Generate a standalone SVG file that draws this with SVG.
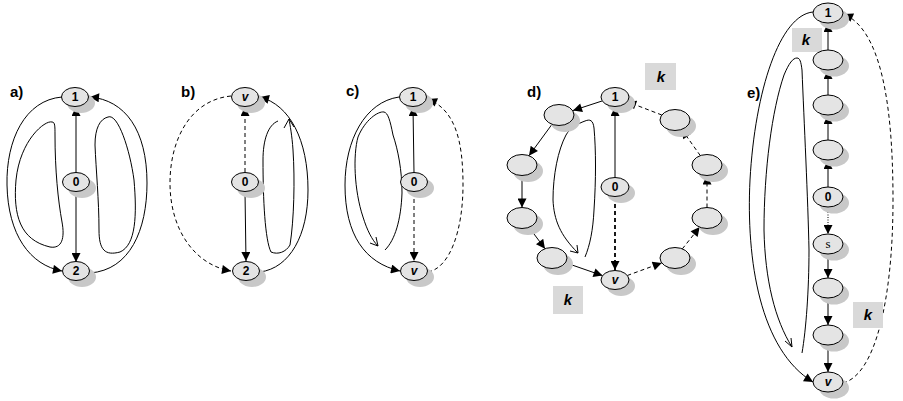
<svg xmlns="http://www.w3.org/2000/svg" width="903" height="401" viewBox="0 0 903 401">
<style>
.sh{fill:#c8c8c8}
.nd{fill:#e4e4e4;stroke:#000;stroke-width:1}
.lb{font-family:"Liberation Sans",Arial,sans-serif;font-size:12px;font-weight:bold;text-anchor:middle}
.it{font-style:italic}
.pl{font-family:"Liberation Sans",Arial,sans-serif;font-size:15px;font-weight:bold}
.kb{fill:#d9d9d9}
.kt{font-family:"Liberation Sans",Arial,sans-serif;font-size:15px;font-weight:bold;font-style:italic;text-anchor:middle}
.e{fill:none;stroke:#000;stroke-width:1}
.a{marker-end:url(#ah)}
.d{stroke-dasharray:4,3}
.dt{stroke-dasharray:1,1.5}
.th{stroke-width:1.8}
</style>
<defs>
<marker id="ah" viewBox="0 0 10 10" refX="10" refY="5" markerWidth="10" markerHeight="9" markerUnits="userSpaceOnUse" orient="auto">
<path d="M0,0 L10,5 L0,10 Z" fill="#000"/>
</marker>
</defs>
<rect width="903" height="401" fill="#fff"/>

<!-- panel labels -->
<text class="pl" x="10" y="97">a)</text>
<text class="pl" x="181" y="97">b)</text>
<text class="pl" x="346" y="96">c)</text>
<text class="pl" x="527" y="97">d)</text>
<text class="pl" x="747" y="98">e)</text>

<g id="connectors">
<!-- a -->
<line class="e a" x1="76" y1="173" x2="76" y2="107"/>
<line class="e a" x1="76" y1="192" x2="76" y2="262"/>
<path class="e a" d="M62,97 C25,100 6,140 7,185 C8,235 30,265 62,271"/>
<path class="e a" d="M90,273 C130,270 147,230 147,183 C147,130 125,100 90,97"/>
<path class="e" d="M52,122 C45,120 20,140 16,180 C13,215 20,240 50,247 C62,249 65,238 62,222 C58,200 55,170 55,135 C55,126 55,122 52,122 Z"/>
<path class="e" d="M108,117 C118,113 130,150 134,180 C137,215 136,245 120,252 C105,256 99,250 99,230 C99,200 96,170 95,145 C95,128 100,119 108,117 Z"/>
<!-- b -->
<line class="e a d" x1="245" y1="172" x2="245" y2="107"/>
<line class="e a" x1="245" y1="192" x2="246" y2="261"/>
<path class="e a d" d="M231,96 C190,100 170,140 170,183 C170,230 195,265 231,271"/>
<path class="e a" d="M260,272 C290,268 308,235 308,190 C308,140 290,105 260,97"/>
<path class="e" d="M278,121 C268,125 263,140 263,160 C263,200 265,240 271,252 C278,255 286,252 290,245 C294,220 295,180 293,150 C292,135 290,125 289,119 M284,128 L289,119 L294,127"/>
<!-- c -->
<line class="e a" x1="414" y1="173" x2="413" y2="107"/>
<line class="e a d" x1="414" y1="192" x2="414" y2="261"/>
<path class="e a" d="M399,97 C365,102 345,140 345,185 C345,235 365,263 400,271"/>
<path class="e a d" d="M428,272 C450,268 463,230 463,185 C463,140 455,110 428,99"/>
<path class="e" d="M385,250 C395,240 401,220 402,193 C402,170 398,150 393,135 C390,120 388,113 384,112 C378,111 365,120 358,137 C353,155 354,190 363,217 C367,230 372,240 378,246 M370,243 L378,246 L376,237"/>
<!-- d -->
<line class="e a" x1="602" y1="101" x2="573" y2="110.5"/>
<line class="e a" x1="552" y1="124.3" x2="529" y2="155.7"/>
<line class="e a" x1="522" y1="175.5" x2="522" y2="207.5"/>
<line class="e a" x1="529" y1="227.3" x2="545" y2="248.7"/>
<line class="e a" x1="565.4" y1="262.7" x2="602.5" y2="275.6"/>
<line class="e a d" x1="627.3" y1="275.5" x2="661.7" y2="262.9"/>
<line class="e a d" x1="682.3" y1="248.9" x2="699.7" y2="227.1"/>
<line class="e a d" x1="707" y1="207.5" x2="707" y2="175.5"/>
<line class="e a d" x1="700.3" y1="155.6" x2="681.7" y2="129.4"/>
<line class="e a d" x1="661.8" y1="115" x2="627.2" y2="101.7"/>
<line class="e a" x1="615" y1="177" x2="615" y2="107"/>
<line class="e a d th" x1="615" y1="197" x2="615" y2="270"/>
<path class="e" d="M585,257 C590,245 593,230 594,210 C596,180 596,150 594,128 C593,120 590,119 585,121 C577,124 570,128 566,135 C558,150 553,175 553,200 C554,220 560,235 578,253 M570,251 L578,253 L577,245"/>
<!-- e -->
<line class="e a" x1="828" y1="187" x2="828" y2="160"/>
<line class="e a" x1="828" y1="140" x2="828" y2="115"/>
<line class="e a" x1="828" y1="95" x2="828" y2="70"/>
<line class="e a" x1="828" y1="50" x2="828" y2="23"/>
<line class="e a dt" x1="828" y1="207" x2="828" y2="234"/>
<line class="e a" x1="828" y1="254" x2="828" y2="278"/>
<line class="e a" x1="828" y1="298" x2="828" y2="325"/>
<line class="e a" x1="828" y1="345" x2="828" y2="372"/>
<path class="e a d" d="M843,383 C875,375 893,300 893,200 C893,100 880,30 844,14"/>
<path class="e a" d="M813,12 C780,15 755,90 750,180 C746,260 760,350 813,382"/>
<path class="e" d="M802,353 C806,330 809,290 809,250 C808,200 804,120 802,70 C801,62 800,58 797,58 C793,58 789,63 784,75 C772,110 764,170 764,230 C765,280 775,320 792,347 M785,341 L792,347 L791,338"/>
</g>

<!-- k boxes -->
<g id="k1"><rect class="kb" x="645" y="63" width="31" height="27"/><text class="kt" x="661" y="82">k</text></g>
<g id="k2"><rect class="kb" x="553" y="286" width="30" height="28"/><text class="kt" x="568" y="305">k</text></g>
<g id="k3"><rect class="kb" x="792" y="28" width="30" height="24"/><text class="kt" x="806" y="45">k</text></g>
<g id="k4"><rect class="kb" x="853" y="302" width="30" height="26"/><text class="kt" x="868" y="320">k</text></g>

<!-- nodes a -->
<g id="a1"><ellipse class="sh" cx="81" cy="103" rx="14" ry="10"/><ellipse class="nd" cx="75" cy="97" rx="13.5" ry="9.5"/><text class="lb" x="75" y="101">1</text></g>
<g id="a0"><ellipse class="sh" cx="82" cy="188" rx="14" ry="10"/><ellipse class="nd" cx="76" cy="182" rx="13.5" ry="9.5"/><text class="lb" x="76" y="186">0</text></g>
<g id="a2"><ellipse class="sh" cx="82" cy="277" rx="14" ry="10"/><ellipse class="nd" cx="76" cy="271" rx="13.5" ry="9.5"/><text class="lb" x="76" y="275">2</text></g>
<!-- nodes b -->
<g id="bv"><ellipse class="sh" cx="251" cy="103" rx="14" ry="10"/><ellipse class="nd" cx="245" cy="97" rx="13.5" ry="9.5"/><text class="lb it" x="245" y="101">v</text></g>
<g id="b0"><ellipse class="sh" cx="251" cy="188" rx="14" ry="10"/><ellipse class="nd" cx="245" cy="182" rx="13.5" ry="9.5"/><text class="lb" x="245" y="186">0</text></g>
<g id="b2"><ellipse class="sh" cx="252" cy="277" rx="14" ry="10"/><ellipse class="nd" cx="246" cy="271" rx="13.5" ry="9.5"/><text class="lb" x="246" y="275">2</text></g>
<!-- nodes c -->
<g id="c1"><ellipse class="sh" cx="419" cy="103" rx="14" ry="10"/><ellipse class="nd" cx="413" cy="97" rx="13.5" ry="9.5"/><text class="lb" x="413" y="101">1</text></g>
<g id="c0"><ellipse class="sh" cx="420" cy="188" rx="14" ry="10"/><ellipse class="nd" cx="414" cy="182" rx="13.5" ry="9.5"/><text class="lb" x="414" y="186">0</text></g>
<g id="cv"><ellipse class="sh" cx="420" cy="277" rx="14" ry="10"/><ellipse class="nd" cx="414" cy="271" rx="13.5" ry="9.5"/><text class="lb it" x="414" y="275">v</text></g>
<!-- nodes d -->
<g id="d1"><ellipse class="sh" cx="621" cy="103" rx="14" ry="10"/><ellipse class="nd" cx="615" cy="97" rx="14" ry="9.5"/><text class="lb" x="615" y="101">1</text></g>
<g id="dA"><ellipse class="sh" cx="565" cy="121" rx="15" ry="11"/><ellipse class="nd" cx="559" cy="115" rx="15" ry="10.5"/></g>
<g id="dB"><ellipse class="sh" cx="528" cy="171" rx="15" ry="11"/><ellipse class="nd" cx="522" cy="165" rx="15" ry="10.5"/></g>
<g id="dC"><ellipse class="sh" cx="528" cy="224" rx="15" ry="11"/><ellipse class="nd" cx="522" cy="218" rx="15" ry="10.5"/></g>
<g id="dD"><ellipse class="sh" cx="558" cy="264" rx="15" ry="11"/><ellipse class="nd" cx="552" cy="258" rx="15" ry="10.5"/></g>
<g id="dv"><ellipse class="sh" cx="621" cy="286" rx="14" ry="10"/><ellipse class="nd" cx="615" cy="280" rx="14" ry="9.5"/><text class="lb it" x="615" y="284">v</text></g>
<g id="dE"><ellipse class="sh" cx="681" cy="264" rx="15" ry="11"/><ellipse class="nd" cx="675" cy="258" rx="15" ry="10.5"/></g>
<g id="dF"><ellipse class="sh" cx="713" cy="224" rx="15" ry="11"/><ellipse class="nd" cx="707" cy="218" rx="15" ry="10.5"/></g>
<g id="dG"><ellipse class="sh" cx="713" cy="171" rx="15" ry="11"/><ellipse class="nd" cx="707" cy="165" rx="15" ry="10.5"/></g>
<g id="dH"><ellipse class="sh" cx="681" cy="126" rx="15" ry="11"/><ellipse class="nd" cx="675" cy="120" rx="15" ry="10.5"/></g>
<g id="d0"><ellipse class="sh" cx="621" cy="193" rx="14" ry="10"/><ellipse class="nd" cx="615" cy="187" rx="14" ry="9.5"/><text class="lb" x="615" y="191">0</text></g>
<!-- nodes e -->
<g id="e1"><ellipse class="sh" cx="834" cy="19" rx="15" ry="10.5"/><ellipse class="nd" cx="828" cy="13" rx="15" ry="10"/><text class="lb" x="828" y="17">1</text></g>
<g id="en1"><ellipse class="sh" cx="834" cy="66" rx="15" ry="10.5"/><ellipse class="nd" cx="828" cy="60" rx="15" ry="10"/></g>
<g id="en2"><ellipse class="sh" cx="834" cy="111" rx="15" ry="10.5"/><ellipse class="nd" cx="828" cy="105" rx="15" ry="10"/></g>
<g id="en3"><ellipse class="sh" cx="834" cy="156" rx="15" ry="10.5"/><ellipse class="nd" cx="828" cy="150" rx="15" ry="10"/></g>
<g id="e0"><ellipse class="sh" cx="834" cy="203" rx="15" ry="10.5"/><ellipse class="nd" cx="828" cy="197" rx="15" ry="10"/><text class="lb" x="828" y="201">0</text></g>
<g id="es"><ellipse class="sh" cx="834" cy="250" rx="15" ry="10.5"/><ellipse class="nd" cx="828" cy="244" rx="15" ry="10"/><text class="lb" style="font-weight:normal;font-family:'Liberation Serif',serif;font-size:13px" x="828" y="248">s</text></g>
<g id="en4"><ellipse class="sh" cx="834" cy="294" rx="15" ry="10.5"/><ellipse class="nd" cx="828" cy="288" rx="15" ry="10"/></g>
<g id="en5"><ellipse class="sh" cx="834" cy="341" rx="15" ry="10.5"/><ellipse class="nd" cx="828" cy="335" rx="15" ry="10"/></g>
<g id="ev"><ellipse class="sh" cx="834" cy="388" rx="15" ry="10.5"/><ellipse class="nd" cx="828" cy="382" rx="15" ry="10"/><text class="lb it" x="828" y="386">v</text></g>
</svg>
